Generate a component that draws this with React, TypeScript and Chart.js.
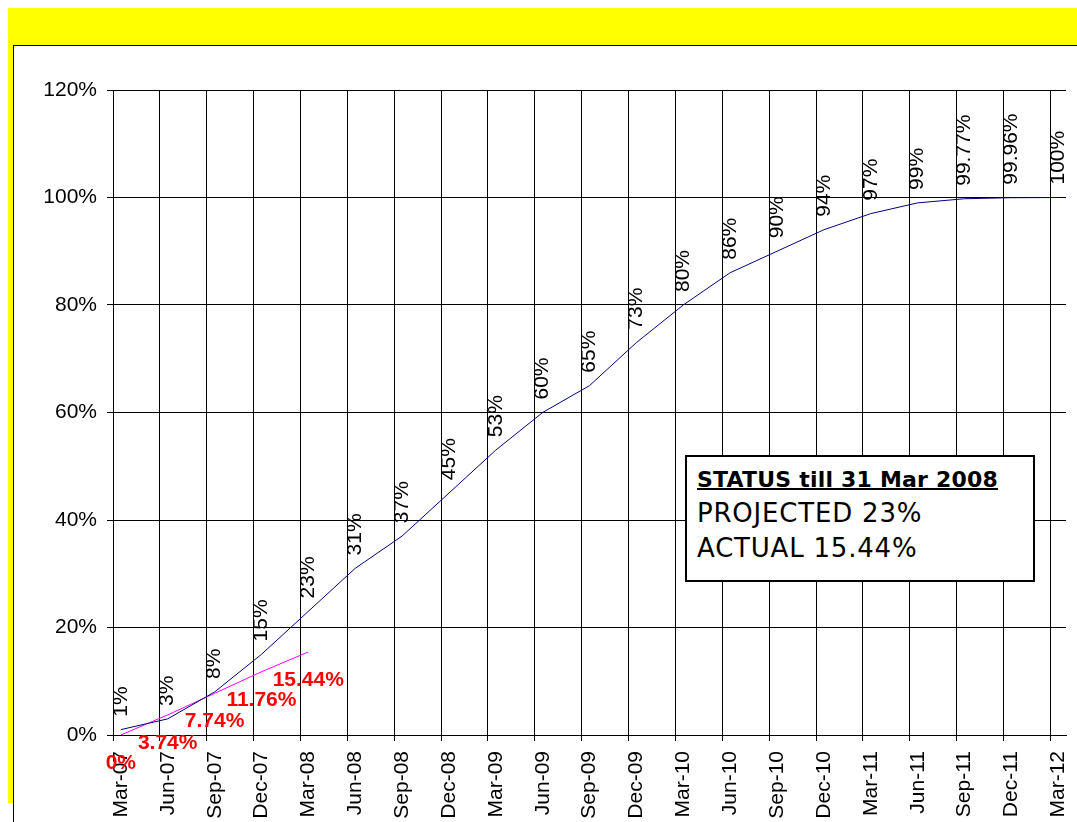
import React, { useEffect, useRef } from "react";
import { Chart, registerables } from "chart.js";

Chart.register(...registerables);

// Quarter tick labels (x axis)
const quarterLabels = [
  "Mar-07", "Jun-07", "Sep-07", "Dec-07",
  "Mar-08", "Jun-08", "Sep-08", "Dec-08",
  "Mar-09", "Jun-09", "Sep-09", "Dec-09",
  "Mar-10", "Jun-10", "Sep-10", "Dec-10",
  "Mar-11", "Jun-11", "Sep-11", "Dec-11",
  "Mar-12",
];

// Projected cumulative progress, one value per quarter
const projected = [
  0.01, 0.03, 0.08, 0.15, 0.23, 0.31, 0.37, 0.45, 0.53, 0.6, 0.65,
  0.73, 0.8, 0.86, 0.9, 0.94, 0.97, 0.99, 0.9977, 0.9996, 1.0,
];

// Actual cumulative progress, first quarters only
const actual = [0, 0.0374, 0.0774, 0.1176, 0.1544];

// Y axis ticks
const yTicks = [0, 0.2, 0.4, 0.6, 0.8, 1.0, 1.2];

const MONTHS_PER_QUARTER = 3;
const MID_MONTH = 0.5; // points sit in the middle of their month (date axis)
const AXIS_MONTHS = (quarterLabels.length - 1) * MONTHS_PER_QUARTER + 1;

const FONT = '"Liberation Sans", Arial, sans-serif';

const pct = (v: number) => {
  const p = v * 100;
  return Math.abs(p - Math.round(p)) < 1e-6
    ? `${Math.round(p)}%`
    : `${p.toFixed(2)}%`;
};

const toPoints = (vals: number[]) =>
  vals.map((v, i) => ({ x: i * MONTHS_PER_QUARTER + MID_MONTH, y: v }));

const pointLabels = {
  id: "pointLabels",
  afterDatasetsDraw(chart: any) {
    const ctx = chart.ctx;
    ctx.save();
    // projected labels: rotated, above point
    const metaP = chart.getDatasetMeta(0);
    ctx.font = `21px ${FONT}`;
    ctx.fillStyle = "#000";
    ctx.textAlign = "left";
    ctx.textBaseline = "middle";
    metaP.data.forEach((pt: any, i: number) => {
      ctx.save();
      ctx.translate(pt.x, pt.y - 13);
      ctx.rotate(-Math.PI / 2);
      ctx.fillText(pct(projected[i]), 0, 0);
      ctx.restore();
    });
    // actual labels: red bold, below point
    const metaA = chart.getDatasetMeta(1);
    ctx.font = `bold 21px ${FONT}`;
    ctx.fillStyle = "#FF0000";
    ctx.textAlign = "center";
    ctx.textBaseline = "middle";
    metaA.data.forEach((pt: any, i: number) => {
      ctx.fillText(pct(actual[i]), pt.x, pt.y + 28);
    });
    ctx.restore();
  },
};

function StatusChart() {
  const ref = useRef<HTMLCanvasElement>(null);
  useEffect(() => {
    if (!ref.current) return;
    const chart = new Chart(ref.current, {
      type: "line",
      data: {
        datasets: [
          {
            label: "Projected",
            data: toPoints(projected),
            borderColor: "#000080",
            borderWidth: 1,
            pointRadius: 0,
            tension: 0,
            fill: false,
          },
          {
            label: "Actual",
            data: toPoints(actual),
            borderColor: "#FF00FF",
            borderWidth: 1,
            pointRadius: 0,
            tension: 0,
            fill: false,
          },
        ],
      },
      options: {
        responsive: false,
        animation: false,
        events: [],
        layout: { padding: { left: 0, right: 11, top: 44, bottom: 0 } },
        plugins: {
          legend: { display: false },
          tooltip: { enabled: false },
          title: { display: false },
        },
        scales: {
          x: {
            type: "linear",
            min: 0,
            max: AXIS_MONTHS,
            afterBuildTicks: (s: any) => {
              s.ticks = quarterLabels.map((_, i) => ({
                value: i * MONTHS_PER_QUARTER,
              }));
            },
            afterFit: (s: any) => {
              s.height = 87;
              s.paddingLeft = 0;
              s.paddingRight = 0;
            },
            grid: {
              color: "#000",
              lineWidth: 1,
              drawTicks: true,
              tickLength: 6,
            },
            border: { display: true, color: "#000", width: 1 },
            ticks: {
              autoSkip: false,
              maxRotation: 90,
              minRotation: 90,
              labelOffset: 8,
              padding: 10,
              color: "#000",
              font: { family: FONT, size: 21 },
              callback: (v: any) => {
                const idx = Math.round(Number(v) / MONTHS_PER_QUARTER);
                return quarterLabels[idx] ?? "";
              },
            },
          },
          y: {
            type: "linear",
            min: 0,
            max: 1.2,
            afterBuildTicks: (s: any) => {
              s.ticks = yTicks.map((v) => ({ value: v }));
            },
            afterFit: (s: any) => {
              s.width = 99;
            },
            grid: {
              color: "#000",
              lineWidth: 1,
              drawTicks: true,
              tickLength: 6,
            },
            border: { display: true, color: "#000", width: 1 },
            ticks: {
              padding: 10,
              color: "#000",
              font: { family: FONT, size: 21 },
              callback: (v: any) => pct(Number(v)),
            },
          },
        },
      },
      plugins: [pointLabels],
    } as any);
    return () => chart.destroy();
  }, []);
  return (
    <canvas
      ref={ref}
      width={1063}
      height={776}
      style={{ position: "absolute", left: 6, top: 38, width: 1063, height: 776 }}
    />
  );
}

export default function App() {
  return (
    <div
      style={{
        position: "fixed",
        left: 8,
        top: 8,
        width: 1069,
        height: 814,
        overflow: "hidden",
      }}
    >
      <div
        style={{
          position: "absolute",
          left: 0,
          top: 0,
          width: 1069,
          height: 795,
          background: "#FFFF00",
        }}
      />
      <div
        style={{
          position: "absolute",
          left: 5,
          top: 37,
          width: 1100,
          height: 800,
          background: "#FFFFFF",
          borderLeft: "1px solid #000",
          borderTop: "1px solid #000",
        }}
      />
      <StatusChart />
      <div
        style={{
          position: "absolute",
          left: 677,
          top: 447,
          width: 350,
          height: 127,
          boxSizing: "border-box",
          border: "2px solid #000",
          background: "#FFFFFF",
          padding: "6px 0 0 10px",
          fontFamily: '"DejaVu Sans", Verdana, sans-serif',
          color: "#000",
        }}
      >
        <div
          style={{
            fontSize: 22,
            fontWeight: "bold",
            lineHeight: "33px",
            letterSpacing: "0.2px",
            textDecoration: "underline",
            textDecorationThickness: "2px",
            whiteSpace: "nowrap",
          }}
        >
          STATUS till 31 Mar 2008
        </div>
        <div
          style={{
            fontSize: 26,
            lineHeight: "35px",
            letterSpacing: "0.8px",
            whiteSpace: "nowrap",
          }}
        >
          PROJECTED 23%
        </div>
        <div
          style={{
            fontSize: 26,
            lineHeight: "35px",
            letterSpacing: "0.8px",
            whiteSpace: "nowrap",
          }}
        >
          ACTUAL 15.44%
        </div>
      </div>
    </div>
  );
}
